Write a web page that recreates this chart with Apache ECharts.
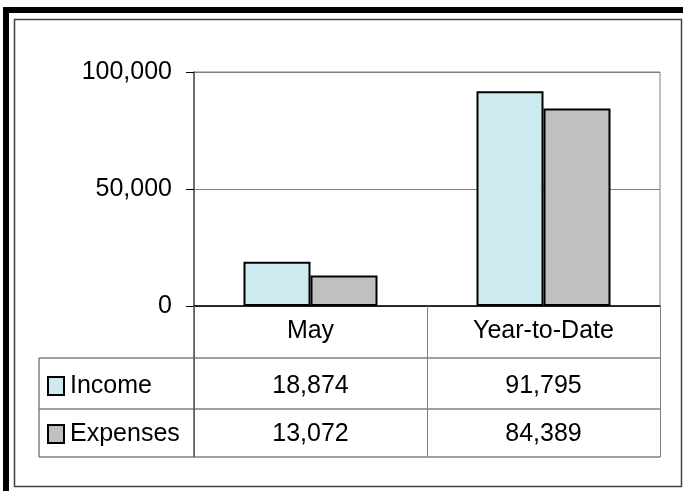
<!DOCTYPE html>
<html>
<head>
<meta charset="utf-8">
<script src="https://cdn.jsdelivr.net/npm/echarts@6/dist/echarts.min.js"></script>
<style>
html,body{margin:0;padding:0;background:#fff;}
#c{width:683px;height:491px;}
</style>
</head>
<body>
<div id="c"></div>
<script>
var categories = ['May', 'Year-to-Date'];
var seriesNames = ['Income', 'Expenses'];
var income = [18874, 91795];
var expenses = [13072, 84389];
var yTicks = [0, 50000, 100000];

var colors = ['#CDEAF0', '#C0C0C0'];
var FONT = "'Liberation Sans', Arial, sans-serif";
function fmt(v){ return Number(v).toLocaleString('en-US'); }

var chart = echarts.init(document.getElementById('c'), null, {renderer:'canvas'});

var option = {
  animation: false,
  backgroundColor: '#fff',
  textStyle: {fontFamily: FONT},
  grid: {left: 194, right: 23, top: 72, bottom: 185, show: true, borderColor: '#808080', borderWidth: 1},
  xAxis: {
    type: 'category',
    data: categories,
    axisLine: {show: true, lineStyle: {color: '#000', width: 1.5}},
    axisTick: {show: true, alignWithLabel: false, length: 151, lineStyle: {color: '#808080', width: 1}},
    axisLabel: {color: '#000', fontSize: 25, fontFamily: FONT, margin: 13}
  },
  yAxis: {
    type: 'value',
    min: yTicks[0], max: yTicks[yTicks.length-1], interval: yTicks[1]-yTicks[0],
    axisLine: {show: true, lineStyle: {color: '#555', width: 1.5}},
    axisTick: {show: true, length: 8, lineStyle: {color: '#000', width: 1}},
    splitLine: {show: true, lineStyle: {color: '#808080', width: 1}},
    axisLabel: {color: '#000', fontSize: 25, fontFamily: FONT, margin: 22, formatter: function(v){return fmt(v);}}
  },
  series: [
    {name: seriesNames[0], type: 'bar', data: income, barWidth: 67, barGap: '0%',
     itemStyle: {color: colors[0], borderColor: '#000', borderWidth: 2}},
    {name: seriesNames[1], type: 'bar', data: expenses, barWidth: 67, barGap: '0%',
     itemStyle: {color: colors[1], borderColor: '#000', borderWidth: 2}}
  ]
};
chart.setOption(option);

// Table and frame
var tableLeft = 39, rowTops = [358, 409, 457];
var plotRight = 660;
var rowY = [386, 434];
var seriesData = [income, expenses];
var g = [];
// outer frame
g.push({type:'rect', shape:{x:3, y:7, width:680, height:6}, style:{fill:'#000'}, z:100});
g.push({type:'rect', shape:{x:3, y:7, width:6, height:484}, style:{fill:'#000'}, z:100});
g.push({type:'rect', shape:{x:14.5, y:19.5, width:667, height:467}, style:{fill:'none', stroke:'#404040', lineWidth:1.5}, z:100});
// table lines
rowTops.forEach(function(y){
  g.push({type:'line', shape:{x1:tableLeft, y1:y, x2:plotRight, y2:y}, style:{stroke:'#808080', lineWidth:1.5}, z:100});
});
g.push({type:'line', shape:{x1:tableLeft, y1:rowTops[0], x2:tableLeft, y2:rowTops[2]}, style:{stroke:'#808080', lineWidth:1.5}, z:100});
var yAxisX = chart.convertToPixel({yAxisIndex:0}, 0) !== undefined ? 194 : 194;
g.push({type:'line', shape:{x1:yAxisX, y1:306, x2:yAxisX, y2:rowTops[2]}, style:{stroke:'#555', lineWidth:1.5}, z:100});
// legend keys & labels
seriesNames.forEach(function(name, i){
  g.push({type:'rect', shape:{x:48, y:rowY[i]-9, width:16, height:18}, style:{fill:colors[i], stroke:'#000', lineWidth:2}, z:100});
  g.push({type:'text', x:70, y:rowY[i], style:{text:name, font:'25px ' + FONT, fill:'#000', textAlign:'left', textVerticalAlign:'middle'}, z:100});
  categories.forEach(function(cat, j){
    var cx = chart.convertToPixel({xAxisIndex:0}, cat);
    g.push({type:'text', x:cx, y:rowY[i], style:{text:fmt(seriesData[i][j]), font:'25px ' + FONT, fill:'#000', textAlign:'center', textVerticalAlign:'middle'}, z:100});
  });
});
chart.setOption({graphic: g});
</script>
</body>
</html>
